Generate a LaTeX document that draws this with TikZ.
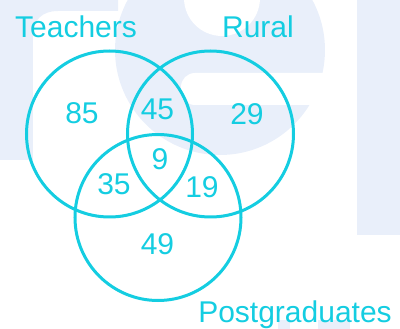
\documentclass[tikz,border=0pt]{standalone}
\usepackage{fontspec}
\setmainfont{Liberation Sans}
\definecolor{venncyan}{RGB}{20,205,225}
\definecolor{wmark}{RGB}{233,239,250}
\tikzset{
  venn/.style={draw=venncyan, line width=3pt},
  lbl/.style={text=venncyan, anchor=base, inner sep=0pt, font=\fontsize{30}{36}\selectfont},
}
\begin{document}
\begin{tikzpicture}[x=1pt,y=-1pt]
			\useasboundingbox (0,0) rectangle (400,329);
			% faint background letters
			\fill[wmark] (-5,0) rectangle (33,160);
			\fill[wmark] (33,0) -- (118,0) -- (118,11) -- (58,11) .. controls (42,11) and (33,20) .. (33,36) -- cycle;
			\fill[wmark] (220,50) circle[radius=105];
			\fill[white] (222,-2) circle[radius=38];
			\fill[white, rounded corners=14pt] (181,73) rectangle (340,105);
			\fill[wmark] (357,0) rectangle (400,235);
			\fill[wmark] (278,320) rectangle (290,330);
			\fill[wmark] (318,320) rectangle (350,330);
			% sets
			\coordinate (teachers) at (109.5,134);
			\coordinate (rural) at (210.5,134);
			\coordinate (postgrad) at (158,217.5);
			\draw[venn] (teachers) circle[radius=83];
			\draw[venn] (rural) circle[radius=83];
			\draw[venn] (postgrad) circle[radius=83];
			\node[lbl] (teacherslbl) at (76,38) {Teachers};
			\node[lbl] (rurallbl) at (258,38) {Rural};
			\node[lbl] (postgradlbl) at (295,323) {Postgraduates};
			% counts
			\node[lbl] (onlyT) at (82,124) {85};
			\node[lbl] (TR) at (157.5,120) {45};
			\node[lbl] (onlyR) at (247,125) {29};
			\node[lbl] (TRP) at (160,170) {9};
			\node[lbl] (TP) at (114,195) {35};
			\node[lbl] (RP) at (202,198) {19};
			\node[lbl] (onlyP) at (157.5,255) {49};
		\end{tikzpicture}
\end{document}
